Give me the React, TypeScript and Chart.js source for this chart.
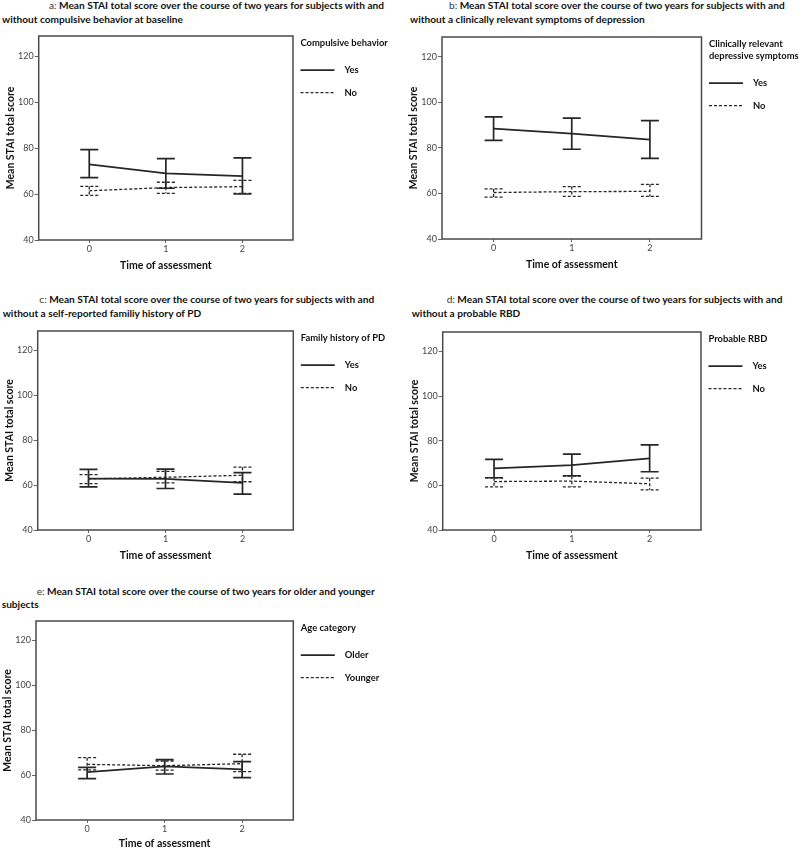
import React, { useEffect, useRef } from "react";
import { Chart, registerables } from "chart.js";
Chart.register(...registerables);

const timePoints = [0, 1, 2];
const yTicks = [40, 60, 80, 100, 120];
const xAxisTitle = "Time of assessment";
const yAxisTitle = "Mean STAI total score";

// a: compulsive behavior
const aYesMean = [72.9, 69.0, 67.8];
const aYesLow = [67.1, 62.5, 60.0];
const aYesHigh = [79.3, 75.4, 75.7];
const aNoMean = [61.4, 62.8, 63.2];
const aNoLow = [59.4, 60.3, 60.3];
const aNoHigh = [63.3, 65.1, 65.9];

// b: depressive symptoms
const bYesMean = [88.5, 86.3, 83.6];
const bYesLow = [83.3, 79.4, 75.4];
const bYesHigh = [93.6, 93.1, 92.0];
const bNoMean = [60.4, 60.8, 60.9];
const bNoLow = [58.4, 58.7, 58.7];
const bNoHigh = [62.0, 63.0, 64.0];

// c: family history of PD
const cYesMean = [62.9, 62.8, 61.0];
const cYesLow = [59.2, 58.5, 56.0];
const cYesHigh = [67.0, 67.1, 65.6];
const cNoMean = [62.8, 63.5, 64.4];
const cNoLow = [60.7, 61.0, 61.5];
const cNoHigh = [64.7, 66.1, 68.0];

// d: probable RBD
const dYesMean = [67.6, 69.1, 72.1];
const dYesLow = [63.4, 64.3, 66.1];
const dYesHigh = [71.6, 74.0, 78.1];
const dNoMean = [61.7, 61.9, 60.7];
const dNoLow = [59.3, 59.3, 58.0];
const dNoHigh = [63.4, 64.1, 63.2];

// e: age category
const eOlderMean = [61.3, 63.9, 62.6];
const eOlderLow = [58.4, 60.5, 58.9];
const eOlderHigh = [63.5, 66.9, 66.0];
const eYoungerMean = [64.8, 64.2, 65.1];
const eYoungerLow = [62.3, 62.2, 61.6];
const eYoungerHigh = [67.8, 66.3, 69.3];

const FONT = "Lato, 'Open Sans', sans-serif";
const LINE = "#262626";

type Group = { label: string; mean: number[]; low: number[]; high: number[]; dashed: boolean };
type Panel = {
  prefix: string;
  title1: string;
  title2: string;
  t1: [number, number];
  t2: [number, number];
  px: number;
  box: [number, number, number, number];
  xTitleGap: number;
  legendTitle: string[];
  groups: Group[];
};

const panels: Panel[] = [
  {
    prefix: "a:",
    title1: " Mean STAI total score over the course of two years for subjects with and",
    title2: "without compulsive behavior at baseline",
    t1: [49, 5.3], t2: [2, 19],
    px: 0, box: [38.7, 36, 293, 240], xTitleGap: 25.7,
    legendTitle: ["Compulsive behavior"],
    groups: [
      { label: "Yes", mean: aYesMean, low: aYesLow, high: aYesHigh, dashed: false },
      { label: "No", mean: aNoMean, low: aNoLow, high: aNoHigh, dashed: true },
    ],
  },
  {
    prefix: "b:",
    title1: " Mean STAI total score over the course of two years for subjects with and",
    title2: "without a clinically relevant symptoms of depression",
    t1: [449, 5.7], t2: [410, 19],
    px: 400, box: [442, 36.7, 701.5, 238.7], xTitleGap: 25.7,
    legendTitle: ["Clinically relevant", "depressive symptoms"],
    groups: [
      { label: "Yes", mean: bYesMean, low: bYesLow, high: bYesHigh, dashed: false },
      { label: "No", mean: bNoMean, low: bNoLow, high: bNoHigh, dashed: true },
    ],
  },
  {
    prefix: "c:",
    title1: " Mean STAI total score over the course of two years for subjects with and",
    title2: "without a self-reported familiy history of PD",
    t1: [39.3, 299.3], t2: [2.7, 313.3],
    px: 0, box: [37.7, 331, 293.3, 530], xTitleGap: 25.7,
    legendTitle: ["Family history of PD"],
    groups: [
      { label: "Yes", mean: cYesMean, low: cYesLow, high: cYesHigh, dashed: false },
      { label: "No", mean: cNoMean, low: cNoLow, high: cNoHigh, dashed: true },
    ],
  },
  {
    prefix: "d:",
    title1: " Mean STAI total score over the course of two years for subjects with and",
    title2: "without a probable RBD",
    t1: [446.7, 299.3], t2: [411.7, 313.3],
    px: 400, box: [442.7, 331.7, 701, 530], xTitleGap: 25.7,
    legendTitle: ["Probable RBD"],
    groups: [
      { label: "Yes", mean: dYesMean, low: dYesLow, high: dYesHigh, dashed: false },
      { label: "No", mean: dNoMean, low: dNoLow, high: dNoHigh, dashed: true },
    ],
  },
  {
    prefix: "e:",
    title1: " Mean STAI total score over the course of two years for older and younger",
    title2: "subjects",
    t1: [36.7, 591.7], t2: [1.7, 604.3],
    px: 0, box: [36, 620.7, 293.3, 820], xTitleGap: 23.3,
    legendTitle: ["Age category"],
    groups: [
      { label: "Older", mean: eOlderMean, low: eOlderLow, high: eOlderHigh, dashed: false },
      { label: "Younger", mean: eYoungerMean, low: eYoungerLow, high: eYoungerHigh, dashed: true },
    ],
  },
];

const DASH = [3, 2];
const TOP_PAD = 10;
const X_AXIS_H = 40;

const boxPlugin = {
  id: "boxFrame",
  beforeDatasetsDraw(chart: any) {
    const { ctx, chartArea } = chart;
    ctx.save();
    ctx.strokeStyle = "#4a4a4a";
    ctx.lineWidth = 1.5;
    ctx.strokeRect(chartArea.left, chartArea.top, chartArea.right - chartArea.left, chartArea.bottom - chartArea.top);
    ctx.restore();
  },
};

const errorBarPlugin = {
  id: "errorBars",
  afterDatasetsDraw(chart: any) {
    const { ctx } = chart;
    const xs = chart.scales.x;
    const ys = chart.scales.y;
    chart.data.datasets.forEach((ds: any) => {
      ctx.save();
      ctx.strokeStyle = ds.borderColor;
      ctx.lineWidth = ds.borderWidth;
      ctx.setLineDash(ds.borderDash || []);
      timePoints.forEach((t, i) => {
        const px = xs.getPixelForValue(t);
        const yl = ys.getPixelForValue(ds.errLow[i]);
        const yh = ys.getPixelForValue(ds.errHigh[i]);
        ctx.beginPath();
        ctx.moveTo(px, yh);
        ctx.lineTo(px, yl);
        ctx.moveTo(px - 9, yh);
        ctx.lineTo(px + 9, yh);
        ctx.moveTo(px - 9, yl);
        ctx.lineTo(px + 9, yl);
        ctx.stroke();
      });
      ctx.restore();
    });
  },
};

const sideLegendPlugin = {
  id: "sideLegend",
  afterDraw(chart: any, _args: any, opts: any) {
    const { ctx, chartArea } = chart;
    const x0 = chartArea.right + 7.5;
    const top = chartArea.top;
    const titles: string[] = opts.title || [];
    ctx.save();
    ctx.fillStyle = "#111";
    ctx.textBaseline = "middle";
    ctx.textAlign = "left";
    ctx.font = `bold 9.4px ${FONT}`;
    titles.forEach((t, i) => ctx.fillText(t, x0, top + 6.8 + i * 12));
    const first = top + 6.8 + (titles.length - 1) * 12 + 27.4;
    chart.data.datasets.forEach((ds: any, i: number) => {
      const y = first + i * 22.4;
      ctx.save();
      ctx.strokeStyle = ds.borderColor;
      ctx.lineWidth = ds.borderWidth;
      ctx.setLineDash(ds.borderDash || []);
      ctx.beginPath();
      ctx.moveTo(x0, y);
      ctx.lineTo(x0 + 34, y);
      ctx.stroke();
      ctx.restore();
      ctx.fillText(ds.label, x0 + 44, y);
    });
    ctx.restore();
  },
};

function PanelChart({ p }: { p: Panel }) {
  const ref = useRef<HTMLCanvasElement | null>(null);
  const [bl, bt, br, bb] = p.box;
  const cTop = bt - TOP_PAD;
  const cH = bb - bt + TOP_PAD + X_AXIS_H;
  const cW = 400;
  const yW = bl - p.px;
  const rightPad = p.px + cW - br;

  useEffect(() => {
    if (!ref.current) return;
    const tickFont = { family: FONT, size: 9 };
    const titleFont = { family: FONT, size: 10.5, weight: "bold" as const };
    const chart = new Chart(ref.current, {
      type: "line",
      data: {
        datasets: p.groups.map((g) => ({
          label: g.label,
          data: timePoints.map((t, i) => ({ x: t, y: g.mean[i] })),
          borderColor: LINE,
          borderWidth: g.dashed ? 1.3 : 1.7,
          borderDash: g.dashed ? DASH : [],
          pointRadius: 0,
          tension: 0,
          fill: false,
          errLow: g.low,
          errHigh: g.high,
        })) as any,
      },
      options: {
        animation: false,
        responsive: false,
        maintainAspectRatio: false,
        layout: { padding: { left: 0, right: rightPad, top: TOP_PAD, bottom: 0 } },
        plugins: {
          legend: { display: false },
          tooltip: { enabled: false },
          title: { display: false },
          sideLegend: { title: p.legendTitle },
        } as any,
        scales: {
          x: {
            type: "linear",
            min: -0.66,
            max: 2.66,
            afterBuildTicks: (s: any) => {
              s.ticks = timePoints.map((v) => ({ value: v }));
            },
            afterFit: (s: any) => {
              s.height = X_AXIS_H;
            },
            grid: { drawOnChartArea: false, drawTicks: true, tickLength: 3, color: "#666", lineWidth: 1 },
            border: { display: false },
            ticks: { font: tickFont, color: "#444", padding: 1, callback: (v: any) => String(v) },
            title: {
              display: true,
              text: xAxisTitle,
              font: titleFont,
              color: "#111",
              padding: { top: 0, bottom: X_AXIS_H - p.xTitleGap - 6.3 },
            },
          },
          y: {
            type: "linear",
            min: 40,
            max: 128.7,
            afterBuildTicks: (s: any) => {
              s.ticks = yTicks.map((v) => ({ value: v }));
            },
            afterFit: (s: any) => {
              s.width = yW;
            },
            grid: { drawOnChartArea: false, drawTicks: true, tickLength: 4, color: "#666", lineWidth: 1 },
            border: { display: false },
            ticks: { font: tickFont, color: "#444", padding: 1, callback: (v: any) => String(v) },
            title: { display: true, text: yAxisTitle, font: titleFont, color: "#111", padding: { top: yW - 28 - 6.3, bottom: 0 } },
          },
        },
      },
      plugins: [boxPlugin, errorBarPlugin, sideLegendPlugin],
    });
    return () => chart.destroy();
  }, []);

  return (
    <canvas
      ref={ref}
      width={cW}
      height={cH}
      style={{ position: "absolute", left: p.px, top: cTop, width: cW, height: cH }}
    />
  );
}

const titleStyle: React.CSSProperties = {
  position: "absolute",
  whiteSpace: "nowrap",
  fontFamily: FONT,
  fontWeight: 700,
  fontSize: "10.15px",
  lineHeight: "13px",
  color: "#111",
};

export default function App() {
  return (
    <div style={{ position: "absolute", left: 0, top: 0, width: 800, height: 848, background: "#fff", overflow: "hidden" }}>
      {panels.map((p) => (
        <React.Fragment key={p.prefix}>
          <div style={{ ...titleStyle, left: p.t1[0], top: p.t1[1] - 6.5 }}>
            <span style={{ fontWeight: 400, color: "#333" }}>{p.prefix}</span>
            {p.title1}
          </div>
          <div style={{ ...titleStyle, left: p.t2[0], top: p.t2[1] - 6.5 }}>{p.title2}</div>
          <PanelChart p={p} />
        </React.Fragment>
      ))}
    </div>
  );
}
